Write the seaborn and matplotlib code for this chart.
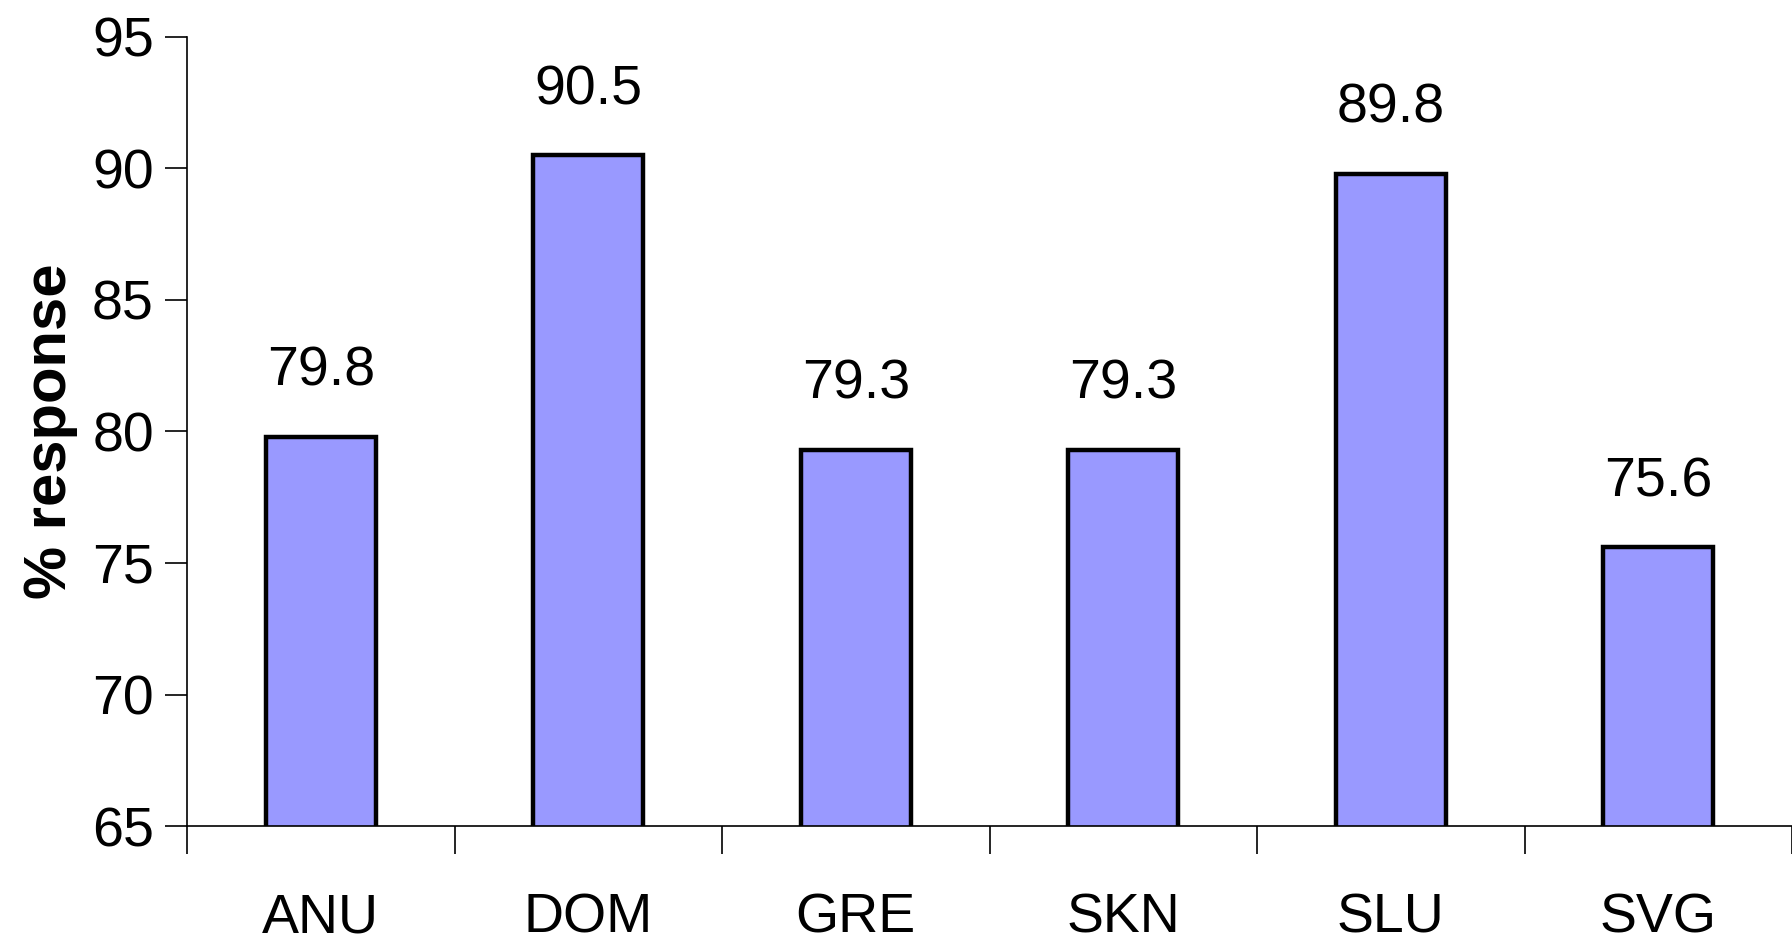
import matplotlib
matplotlib.use("Agg")
import matplotlib.pyplot as plt
import seaborn as sns
from matplotlib.ticker import FixedLocator

# dados
countries = ["ANU", "DOM", "GRE", "SKN", "SLU", "SVG"]
response = [79.8, 90.5, 79.3, 79.3, 89.8, 75.6]
y_ticks = [65, 70, 75, 80, 85, 90, 95]

sns.set_theme(style="white")
plt.rcParams['font.family'] = ['Liberation Sans Narrow', 'Liberation Sans', 'DejaVu Sans']
plt.rcParams['text.color'] = 'black'

fig = plt.figure(figsize=(17.92, 9.43), dpi=100)
ax = fig.add_axes([0.1044, 0.124, 0.8956, 0.837])

sns.barplot(x=countries, y=response, color="#9999FF", saturation=1,
            width=0.41, edgecolor="black", linewidth=3.2, ax=ax)

ax.set_ylim(65, 95)
ax.set_xlim(-0.5, 5.5)
ax.set_yticks(y_ticks)
ax.set_yticklabels([str(t) for t in y_ticks])

# rótulos de valor acima das barras
for cont in ax.containers:
    ax.bar_label(cont, fmt="%.1f", padding=28, fontsize=40, color='black')

# marcas do eixo x nas fronteiras das categorias
ax.xaxis.set_minor_locator(FixedLocator([i - 0.5 for i in range(len(countries) + 1)]))
ax.tick_params(axis='x', which='major', bottom=True, length=0, labelsize=40, pad=48,
               labelcolor='black')
ax.tick_params(axis='x', which='minor', bottom=True, length=20, width=1.2,
               color='black', direction='out')
ax.tick_params(axis='y', which='major', left=True, length=16, width=1.2, color='black',
               direction='out', labelsize=40, pad=8, labelcolor='black')

for side in ['top', 'right']:
    ax.spines[side].set_visible(False)
for side in ['left', 'bottom']:
    ax.spines[side].set_color('black')
    ax.spines[side].set_linewidth(1.2)

ax.set_ylabel("% response", fontsize=43, fontweight='bold', color='black',
              family=['Liberation Sans', 'DejaVu Sans'])
ax.yaxis.set_label_coords(-0.068, 0.50)
ax.set_xlabel("")

plt.savefig("out.png", dpi=100)
